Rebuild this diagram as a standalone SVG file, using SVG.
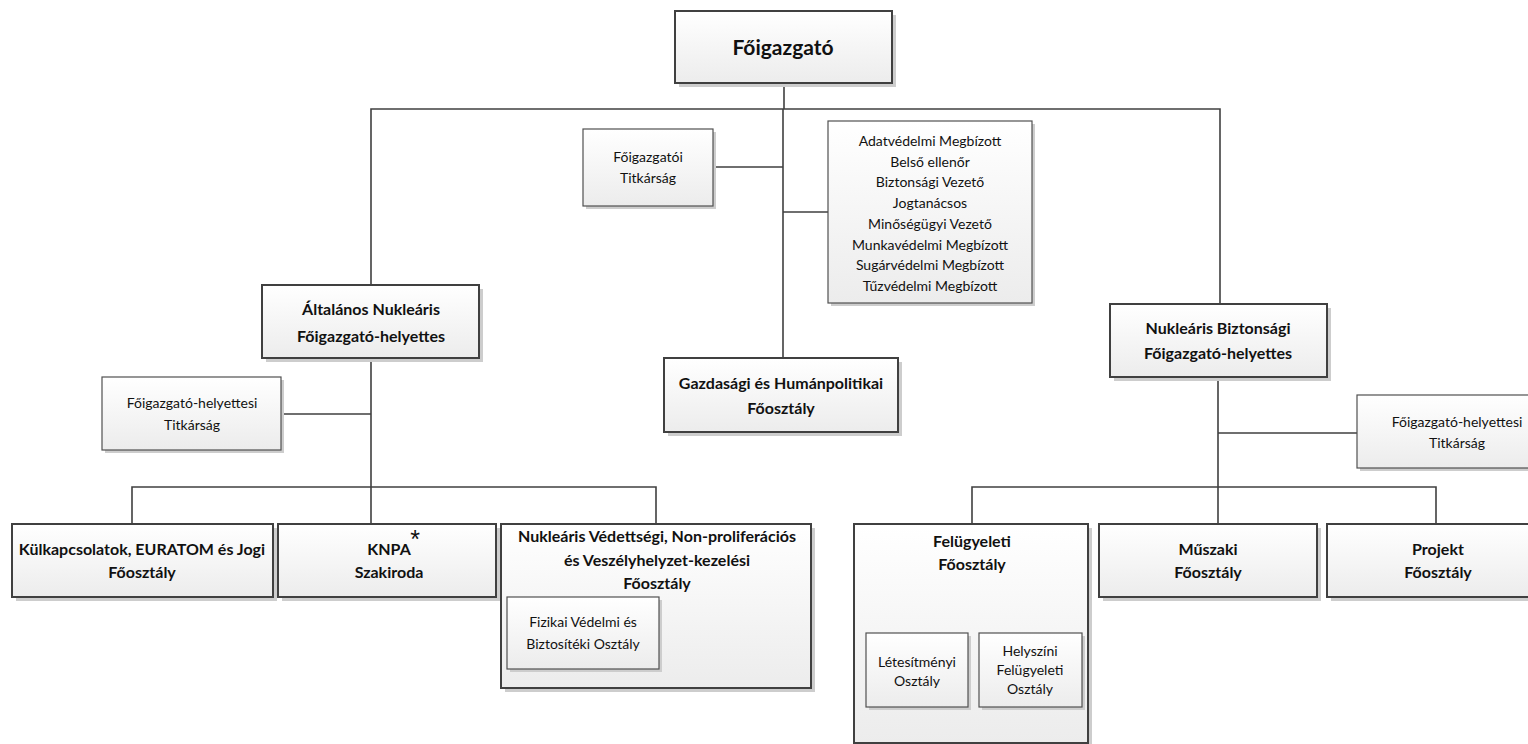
<svg xmlns="http://www.w3.org/2000/svg" width="1528" height="744" viewBox="0 0 1528 744">
<defs>
<linearGradient id="g" x1="0" y1="0" x2="0" y2="1">
<stop offset="0" stop-color="#ffffff"/>
<stop offset="1" stop-color="#ececec"/>
</linearGradient>
<style>
.sh{fill:#cdcdcd}
.bx{fill:url(#g);stroke:#404040;stroke-width:2}
.sb{fill:url(#g);stroke:#505050;stroke-width:1.2}
.ln{fill:none;stroke:#404040;stroke-width:1.6}
.t{font-family:Lato,"Liberation Sans",sans-serif;font-weight:bold;font-size:16px;fill:#111;text-anchor:middle}
.s{font-family:Lato,"Liberation Sans",sans-serif;font-size:14px;fill:#111;text-anchor:middle}
</style>
</defs>
<rect width="1528" height="744" fill="#ffffff"/>
<g id="connectors">
<path class="ln" d="M784 83 V109 M371 285 V109 H1220 V304 M783 109 V358 M713 167 H783 M783 212 H828"/>
<path class="ln" d="M371 358 V524 M281 414 H371 M132 524 V487 H656 V524"/>
<path class="ln" d="M1218 377 V524 M1218 433 H1357 M972 524 V487 H1436 V524"/>
</g>
<g id="n-foigazgato">
<rect class="sh" x="679" y="15" width="217" height="72"/>
<rect class="bx" x="675" y="11" width="217" height="72"/>
<text class="t" x="783" y="55" style="font-size:21px">Főigazgató</text>
</g>
<g id="n-titkarsag">
<rect class="sh" x="586" y="132" width="130" height="77"/>
<rect class="sb" x="583" y="129" width="130" height="77"/>
<text class="s" x="648" y="162">Főigazgatói</text>
<text class="s" x="648" y="183">Titkárság</text>
</g>
<g id="n-megbizottak">
<rect class="sh" x="831" y="124" width="204" height="182"/>
<rect class="sb" x="828" y="121" width="204" height="182"/>
<text class="s" x="930" y="146">Adatvédelmi Megbízott</text>
<text class="s" x="930" y="167">Belső ellenőr</text>
<text class="s" x="930" y="187">Biztonsági Vezető</text>
<text class="s" x="930" y="208">Jogtanácsos</text>
<text class="s" x="930" y="229">Minőségügyi Vezető</text>
<text class="s" x="930" y="250">Munkavédelmi Megbízott</text>
<text class="s" x="930" y="270">Sugárvédelmi Megbízott</text>
<text class="s" x="930" y="291">Tűzvédelmi Megbízott</text>
</g>
<g id="n-altalanos">
<rect class="sh" x="266" y="289" width="217" height="73"/>
<rect class="bx" x="262" y="285" width="217" height="73"/>
<text class="t" x="371" y="315">Általános Nukleáris</text>
<text class="t" x="371" y="342">Főigazgató-helyettes</text>
</g>
<g id="n-gazdasagi">
<rect class="sh" x="668" y="362" width="234" height="74"/>
<rect class="bx" x="664" y="358" width="234" height="74"/>
<text class="t" x="781" y="389">Gazdasági és Humánpolitikai</text>
<text class="t" x="781" y="414">Főosztály</text>
</g>
<g id="n-nukbiz">
<rect class="sh" x="1114" y="308" width="217" height="73"/>
<rect class="bx" x="1110" y="304" width="217" height="73"/>
<text class="t" x="1218" y="334">Nukleáris Biztonsági</text>
<text class="t" x="1218" y="359">Főigazgató-helyettes</text>
</g>
<g id="n-titk-bal">
<rect class="sh" x="105" y="380" width="179" height="73"/>
<rect class="sb" x="102" y="377" width="179" height="73"/>
<text class="s" x="192" y="408">Főigazgató-helyettesi</text>
<text class="s" x="192" y="430">Titkárság</text>
</g>
<g id="n-titk-jobb">
<rect class="sh" x="1360" y="398" width="200" height="73"/>
<rect class="sb" x="1357" y="395" width="200" height="73"/>
<text class="s" x="1457" y="427">Főigazgató-helyettesi</text>
<text class="s" x="1457" y="448">Titkárság</text>
</g>
<g id="n-kulkapcsolatok">
<rect class="sh" x="16" y="528" width="261" height="73"/>
<rect class="bx" x="12" y="524" width="261" height="73"/>
<text class="t" x="142" y="555">Külkapcsolatok, EURATOM és Jogi</text>
<text class="t" x="142" y="578">Főosztály</text>
</g>
<g id="n-knpa">
<rect class="sh" x="282" y="528" width="218" height="73"/>
<rect class="bx" x="278" y="524" width="218" height="73"/>
<text class="t" x="389" y="555">KNPA</text>
<text class="s" x="415" y="548" style="font-size:25px;font-family:'Liberation Sans',sans-serif">*</text>
<text class="t" x="389" y="578">Szakiroda</text>
</g>
<g id="n-vedettsegi">
<rect class="sh" x="505" y="528" width="310" height="164"/>
<rect class="bx" x="501" y="524" width="310" height="164"/>
<text class="t" x="657" y="542">Nukleáris Védettségi, Non-proliferációs</text>
<text class="t" x="657" y="566">és Veszélyhelyzet-kezelési</text>
<text class="t" x="657" y="589">Főosztály</text>
</g>
<g id="n-fizikai">
<rect class="sh" x="510" y="600" width="152" height="72"/>
<rect class="sb" x="507" y="597" width="152" height="72"/>
<text class="s" x="583" y="627">Fizikai Védelmi és</text>
<text class="s" x="583" y="649">Biztosítéki Osztály</text>
</g>
<g id="n-felugyeleti">
<rect class="sh" x="858" y="528" width="234" height="220"/>
<rect class="bx" x="854" y="524" width="234" height="219"/>
<text class="t" x="972" y="547">Felügyeleti</text>
<text class="t" x="972" y="570">Főosztály</text>
</g>
<g id="n-letesitmenyi">
<rect class="sh" x="869" y="636" width="102" height="74"/>
<rect class="sb" x="866" y="633" width="102" height="74"/>
<text class="s" x="917" y="667">Létesítményi</text>
<text class="s" x="917" y="686">Osztály</text>
</g>
<g id="n-helyszini">
<rect class="sh" x="982" y="636" width="103" height="74"/>
<rect class="sb" x="979" y="633" width="103" height="74"/>
<text class="s" x="1030" y="656">Helyszíni</text>
<text class="s" x="1030" y="675">Felügyeleti</text>
<text class="s" x="1030" y="694">Osztály</text>
</g>
<g id="n-muszaki">
<rect class="sh" x="1103" y="528" width="218" height="73"/>
<rect class="bx" x="1099" y="524" width="218" height="73"/>
<text class="t" x="1208" y="555">Műszaki</text>
<text class="t" x="1208" y="578">Főosztály</text>
</g>
<g id="n-projekt">
<rect class="sh" x="1331" y="528" width="218" height="73"/>
<rect class="bx" x="1327" y="524" width="218" height="73"/>
<text class="t" x="1438" y="555">Projekt</text>
<text class="t" x="1438" y="578">Főosztály</text>
</g>
</svg>
